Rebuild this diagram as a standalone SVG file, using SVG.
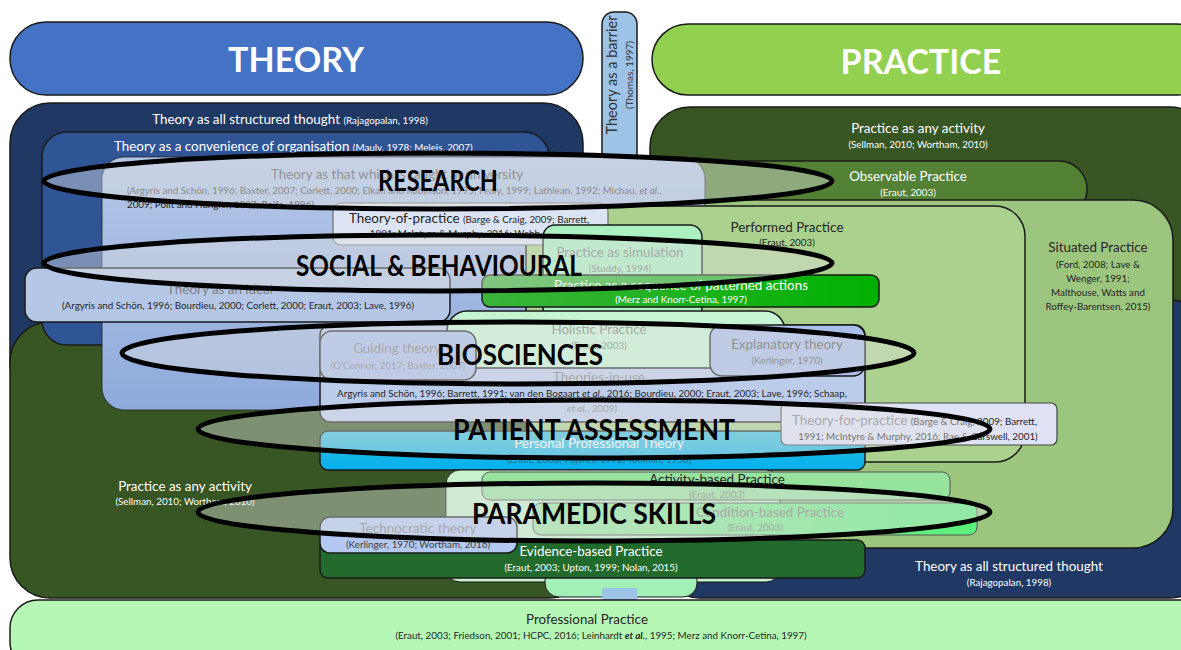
<svg xmlns="http://www.w3.org/2000/svg" width="1181" height="650" viewBox="0 0 1181 650">
<defs>
<style>
text{font-family:Lato,"Open Sans","Liberation Sans",sans-serif;text-anchor:middle}
.t{font-size:13.4px}
.c{font-size:9.8px}
.w{fill:#ffffff}
.d{fill:#262626}
.g{fill:#7f7f7f}
.box{stroke:#1a1a1a;stroke-width:1.5}
.ell{fill:#e0e0e0;fill-opacity:0.42;stroke:#000000;stroke-width:5}
.lab{font-size:28px;font-weight:bold;fill:#000000}
.big{font-size:34px;font-weight:bold;fill:#ffffff}
</style>
<linearGradient id="taught" x1="0" y1="0" x2="0" y2="1"><stop offset="0" stop-color="#b4c7e7"/><stop offset="1" stop-color="#8faadc"/></linearGradient>
<linearGradient id="pptg" x1="0" y1="0" x2="0" y2="1"><stop offset="0" stop-color="#3fc0d8"/><stop offset="1" stop-color="#00b0f0"/></linearGradient>
<linearGradient id="condg" x1="0" y1="0" x2="1" y2="0"><stop offset="0" stop-color="#9fe6a6"/><stop offset="1" stop-color="#5af07a"/></linearGradient>
<linearGradient id="seqg" x1="0" y1="0" x2="1" y2="0"><stop offset="0" stop-color="#3cb43c"/><stop offset="1" stop-color="#00b000"/></linearGradient>
</defs>

<g id="theory-header">
<rect class="box" x="10" y="22" width="573" height="73" rx="36" fill="#4472c4"/>
<text class="big" x="296" y="72">THEORY</text>
</g>
<g id="practice-header">
<rect class="box" x="652" y="24" width="560" height="71" rx="36" fill="#92d050"/>
<text class="big" x="921" y="74">PRACTICE</text>
</g>
<g id="barrier">
<rect class="box" x="602" y="12" width="35" height="588" rx="12" fill="#9dc3e6"/>
<text transform="translate(617,75) rotate(-90)" style="font-size:14.5px;fill:#333">Theory as a barrier</text>
<text transform="translate(633,75) rotate(-90)" style="font-size:10px;fill:#333">(Thomas, 1997)</text>
</g>

<g id="theory-structured-top">
<rect class="box" x="10" y="103" width="573" height="300" rx="40" fill="#203864"/>
<text class="t w" x="290" y="124">Theory as all structured thought <tspan class="c">(Rajagopalan, 1998)</tspan></text>
</g>
<g id="practice-activity-top">
<rect class="box" x="650" y="107" width="560" height="228" rx="40" fill="#375623"/>
<text class="t w" x="918" y="133">Practice as any activity</text>
<text class="c w" x="918" y="148">(Sellman, 2010; Wortham, 2010)</text>
</g>
<g id="practice-activity-bottom">
<rect class="box" x="10" y="322" width="580" height="276" rx="40" fill="#375623"/>
<text class="t w" x="185" y="491">Practice as any activity</text>
<text class="c w" x="185" y="505">(Sellman, 2010; Wortham, 2010)</text>
</g>
<g id="theory-structured-bottom">
<rect class="box" x="660" y="300" width="550" height="298" rx="40" fill="#203864"/>
<text class="t w" x="1009" y="571">Theory as all structured thought</text>
<text class="c w" x="1009" y="586">(Rajagopalan, 1998)</text>
</g>

<g id="theory-convenience">
<rect class="box" x="42" y="132" width="507" height="213" rx="25" fill="#2f5597"/>
<text class="t w" x="114" y="151" style="text-anchor:start">Theory as a convenience of organisation <tspan class="c">(Mauly, 1978; Meleis, 2007)</tspan></text>
</g>
<g id="observable-practice">
<rect class="box" x="640" y="161" width="447" height="56" rx="28" fill="#548235"/>
<text class="t w" x="908" y="181">Observable Practice</text>
<text class="c w" x="908" y="196">(Eraut, 2003)</text>
</g>
<g id="situated-practice">
<rect class="box" x="560" y="200" width="613" height="348" rx="40" fill="#9cc57e"/>
<text class="t d" x="1098" y="252">Situated Practice</text>
<text class="c d" x="1098" y="268">(Ford, 2008; Lave &amp;</text>
<text class="c d" x="1098" y="282">Wenger, 1991;</text>
<text class="c d" x="1098" y="296">Malthouse, Watts and</text>
<text class="c d" x="1098" y="310">Roffey-Barentsen, 2015)</text>
</g>
<g id="theory-taught">
<rect class="box" x="102" y="157" width="603" height="253" rx="22" fill="url(#taught)" stroke-opacity="0.5"/>
<text class="t" x="397" y="179" style="fill:#5a5a5a">Theory as that which is taught at university</text>
<text class="c" x="127" y="194" style="text-anchor:start;fill:#4a4a4a">(Argyris and Schön, 1996; Baxter, 2007; Corlett, 2000; Elkan and Robinson, 1995; Fealy, 1999; Lathlean, 1992; Michau, <tspan font-style="italic">et al.</tspan>,</text>
<text class="c" x="127" y="208" style="text-anchor:start;fill:#262626">2009; Polit and Hungler, 1987; Rolfe, 1996)</text>
</g>
<g id="performed-practice">
<rect class="box" x="526" y="206" width="499" height="256" rx="30" fill="#aad18e"/>
<text class="t d" x="787" y="232">Performed Practice</text>
<text class="c d" x="787" y="246">(Eraut, 2003)</text>
</g>
<g id="theory-of-practice">
<rect x="333" y="203" width="275" height="42" rx="8" fill="#dce3f2" stroke="#6f6f6f" stroke-width="1.2"/>
<text class="t d" x="349" y="223" style="text-anchor:start">Theory-of-practice <tspan class="c">(Barge &amp; Craig, 2009; Barrett,</tspan></text>
<text class="c d" x="470" y="237">1991; McIntyre &amp; Murphy, 2016; Webb, 2001)</text>
</g>
<g id="practice-simulation">
<rect class="box" x="543" y="225" width="159" height="95" rx="12" fill="#abf0c0"/>
<text class="t g" x="620" y="257">Practice as simulation</text>
<text class="c g" x="620" y="272">(Studdy, 1994)</text>
</g>
<g id="theory-ideal">
<rect class="box" x="25" y="268" width="425" height="54" rx="12" fill="#b4c7e7"/>
<text class="t g" x="220" y="294">Theory as an ideal</text>
<text class="c d" x="238" y="309">(Argyris and Schön, 1996; Bourdieu, 2000; Corlett, 2000; Eraut, 2003; Lave, 1996)</text>
</g>
<g id="practice-sequence">
<rect class="box" x="482" y="275" width="397" height="32" rx="8" fill="url(#seqg)"/>
<text class="t w" x="681" y="290">Practice as a sequence of patterned actions</text>
<text class="c w" x="681" y="303">(Merz and Knorr-Cetina, 1997)</text>
</g>
<g id="theories-in-use">
<rect class="box" x="320" y="325" width="545" height="97" rx="10" fill="#bccdec"/>
<text class="t g" x="599" y="382">Theories-in-use</text>
<text class="c d" x="592" y="397">Argyris and Schön, 1996; Barrett, 1991; van den Bogaart <tspan font-style="italic">et al.</tspan>, 2016; Bourdieu, 2000; Eraut, 2003; Lave, 1996; Schaap,</text>
<text class="c g" x="592" y="412"><tspan font-style="italic">et al.</tspan>, 2009)</text>
</g>
<g id="holistic-practice">
<rect class="box" x="447" y="311" width="338" height="57" rx="20" fill="#c6f5d3"/>
<text class="t g" x="599" y="334">Holistic Practice</text>
<text class="c g" x="599" y="349">(Eraut, 2003)</text>
</g>
<g id="guiding-theory">
<rect class="box" x="320" y="331" width="156" height="49" rx="12" fill="#a9bee9"/>
<text class="t g" x="397" y="353">Guiding theory</text>
<text class="c g" x="398" y="369">(O’Connor, 2017; Baxter, 2007)</text>
</g>
<g id="explanatory-theory">
<rect class="box" x="710" y="325" width="155" height="51" rx="12" fill="#a9bee9"/>
<text class="t" x="787" y="349" style="fill:#555">Explanatory theory</text>
<text class="c" x="787" y="364" style="fill:#555">(Kerlinger, 1970)</text>
</g>
<g id="personal-professional-theory">
<rect class="box" x="320" y="431" width="545" height="39" rx="8" fill="url(#pptg)"/>
<text class="t w" x="599" y="448">Personal Professional Theory</text>
<text class="c" x="599" y="463" style="fill:#2a6f8a">(Eraut, 2003; Pajares, 1992; Toulmin, 1958)</text>
</g>
<g id="theory-for-practice">
<rect x="781" y="403" width="276" height="42" rx="6" fill="#dfe2f4" stroke="#444" stroke-width="1.2"/>
<text class="t g" x="792" y="425" style="text-anchor:start">Theory-for-practice <tspan class="c" style="fill:#262626">(Barge &amp; Craig, 2009; Barrett,</tspan></text>
<text class="c d" x="918" y="440">1991; McIntyre &amp; Murphy, 2016; Rae &amp; Carswell, 2001)</text>
</g>
<g id="pale-back">
<rect x="446" y="470" width="334" height="112" rx="14" fill="#c6f2ce" stroke="#1a1a1a" stroke-width="1"/>
</g>
<g id="activity-based-practice">
<rect x="482" y="472" width="468" height="28" rx="8" fill="#96e39e" stroke="#555" stroke-width="1"/>
<text class="t d" x="717" y="484">Activity-based Practice</text>
<text class="c g" x="717" y="498">(Eraut, 2003)</text>
</g>
<g id="condition-based-practice">
<rect x="533" y="503" width="444" height="32" rx="8" fill="url(#condg)" stroke="#555" stroke-width="1"/>
<text class="t g" x="770" y="517">Condition-based Practice</text>
<text class="c g" x="755" y="531">(Eraut, 2003)</text>
</g>
<g id="bottom-pill">
<rect x="545" y="566" width="152" height="31" rx="14" fill="#a2f0b8" stroke="#1a1a1a" stroke-width="1"/>
<rect x="602" y="588" width="35" height="12" fill="#9dc3e6"/>
</g>
<g id="evidence-based-practice">
<rect class="box" x="320" y="540" width="545" height="38" rx="8" fill="#226b2d"/>
<text class="t w" x="591" y="556">Evidence-based Practice</text>
<text class="c w" x="591" y="571">(Eraut, 2003; Upton, 1999; Nolan, 2015)</text>
</g>
<g id="technocratic-theory">
<rect class="box" x="320" y="517" width="197" height="36" rx="10" fill="#b4c9f2"/>
<text class="t g" x="418" y="533">Technocratic theory</text>
<text class="c" x="418" y="548" style="fill:#404040">(Kerlinger, 1970; Wortham, 2016)</text>
</g>
<g id="professional-practice">
<rect class="box" x="10" y="600" width="1200" height="70" rx="28" fill="#b5f8b5"/>
<text class="t d" x="587" y="624">Professional Practice</text>
<text class="c d" x="601" y="639">(Eraut, 2003; Friedson, 2001; HCPC, 2016; Leinhardt <tspan font-style="italic" font-weight="bold">et al.</tspan>, 1995; Merz and Knorr-Cetina, 1997)</text>
</g>

<g id="research">
<ellipse class="ell" cx="438" cy="181" rx="394" ry="28"/>
<text class="lab" x="438" y="191" textLength="120" lengthAdjust="spacingAndGlyphs">RESEARCH</text>
</g>
<g id="social-behavioural">
<ellipse class="ell" cx="438" cy="263" rx="394" ry="28"/>
<text class="lab" x="439" y="276" textLength="286" lengthAdjust="spacingAndGlyphs">SOCIAL &amp; BEHAVIOURAL</text>
</g>
<g id="biosciences">
<ellipse class="ell" cx="518" cy="353" rx="396" ry="31"/>
<text class="lab" x="520" y="365" textLength="166" lengthAdjust="spacingAndGlyphs">BIOSCIENCES</text>
</g>
<g id="patient-assessment">
<ellipse class="ell" cx="594" cy="429" rx="396" ry="29"/>
<text class="lab" x="594" y="440" textLength="282" lengthAdjust="spacingAndGlyphs">PATIENT ASSESSMENT</text>
</g>
<g id="paramedic-skills">
<ellipse class="ell" cx="594" cy="512" rx="396" ry="29"/>
<text class="lab" x="594" y="524" textLength="244" lengthAdjust="spacingAndGlyphs">PARAMEDIC SKILLS</text>
</g>
</svg>
